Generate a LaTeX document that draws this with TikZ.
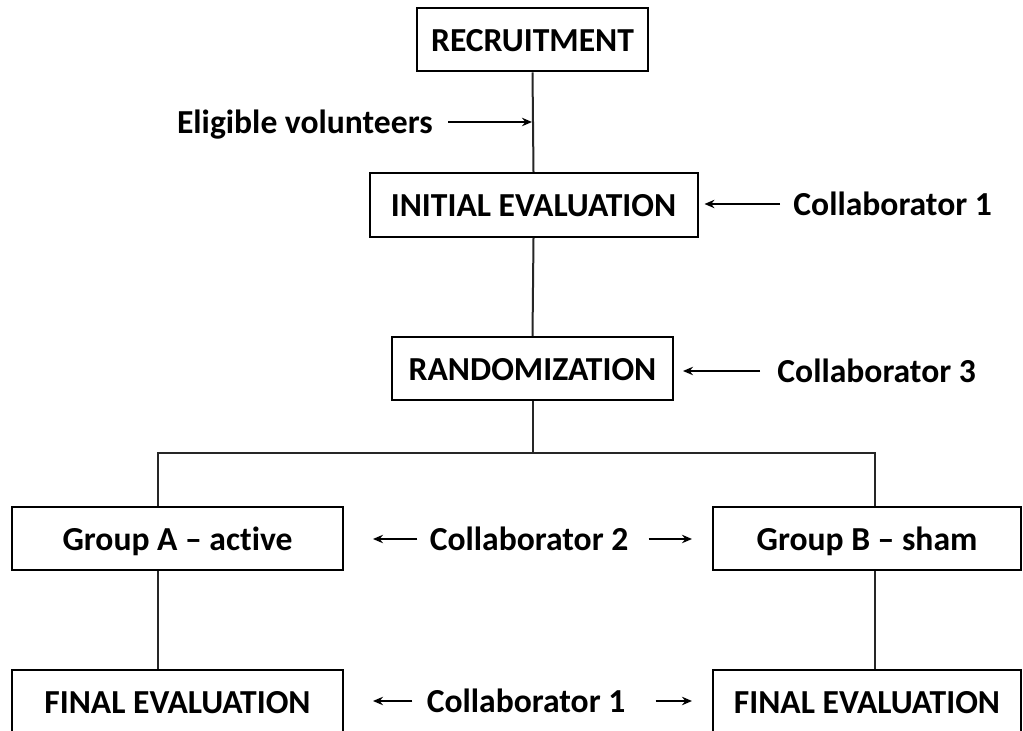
\documentclass[tikz,border=0pt]{standalone}
\usepackage{fontspec}
\setmainfont[Ligatures={NoCommon,NoRare,NoDiscretionary,NoContextual}]{Carlito}
\usetikzlibrary{arrows.meta}
\begin{document}
\begin{tikzpicture}[x=0.5pt,y=-0.5pt,
  box/.style={draw=black, line width=1pt, rectangle, inner sep=0pt, text height=12.2pt, text depth=0.5pt, font=\fontsize{16.8}{20}\selectfont\bfseries},
  lbl/.style={inner sep=0pt, text height=12.2pt, text depth=0.5pt, font=\fontsize{16.8}{20}\selectfont\bfseries},
  conn/.style={line width=1pt, draw=black!85},
  arr/.style={line width=0.8pt, -{Stealth[length=5pt,width=4.2pt]}}]
\clip (0,0) rectangle (1023,731);
\fill[white] (0,0) rectangle (1023,731);
% boxes
\node[box, minimum width=115.5pt, minimum height=31.5pt] (rec) at (532.5,40) {RECRUITMENT};
\node[box, minimum width=164pt, minimum height=32pt] (init) at (533.5,205) {INITIAL EVALUATION};
\node[box, minimum width=140.5pt, minimum height=31.5pt] (rand) at (532.5,368.5) {RANDOMIZATION};
\node[box, minimum width=165.5pt, minimum height=31.5pt] (grpA) at (177.5,538.5) {Group A – active};
\node[box, minimum width=154pt, minimum height=31.5pt] (grpB) at (867,538.5) {Group B – sham};
\node[box, minimum width=165.5pt, minimum height=31.5pt] (finA) at (177.5,701.5) {FINAL EVALUATION};
\node[box, minimum width=154pt, minimum height=31.5pt] (finB) at (867,701.5) {FINAL EVALUATION};
% labels
\node[lbl, anchor=east] (elig) at (433,122) {Eligible volunteers};
\node[lbl, anchor=west] (c1a) at (793,204) {Collaborator 1};
\node[lbl, anchor=west] (c3) at (777,371) {Collaborator 3};
\node[lbl] (c2) at (529,539) {Collaborator 2};
\node[lbl] (c1b) at (526,701) {Collaborator 1};
% coordinates
\coordinate (eligpt) at (533,122);
\coordinate (jn) at (532.5,453);
\coordinate (jl) at (158,453);
\coordinate (jr) at (875,453);
% tree connectors
\draw[conn] (rec.south) -- (init.north);
\draw[conn] (init.south) -- (rand.north);
\draw[conn] (rand.south) -- (jn);
\draw[conn] (grpA.north -| jl) -- (jl) -- (jr) -- (grpB.north -| jr);
\draw[conn] (grpA.south -| jl) -- (finA.north -| jl);
\draw[conn] (grpB.south -| jr) -- (finB.north -| jr);
% arrows
\draw[arr, shorten <=7.5pt, shorten >=0.5pt] (elig.east) -- (eligpt);
\draw[arr, shorten <=6.5pt, shorten >=3pt] (c1a.west) -- (c1a.west -| init.east);
\draw[arr, shorten <=8.5pt, shorten >=4.5pt] (c3.west) -- (c3.west -| rand.east);
\draw[arr, shorten <=6pt, shorten >=14.5pt] (c2.west) -- (c2.west -| grpA.east);
\draw[arr, shorten <=10pt, shorten >=10pt] (c2.east) -- (c2.east -| grpB.west);
\draw[arr, shorten <=7pt, shorten >=14.5pt] (c1b.west) -- (c1b.west -| finA.east);
\draw[arr, shorten <=15pt, shorten >=10pt] (c1b.east) -- (c1b.east -| finB.west);
\end{tikzpicture}
\end{document}
